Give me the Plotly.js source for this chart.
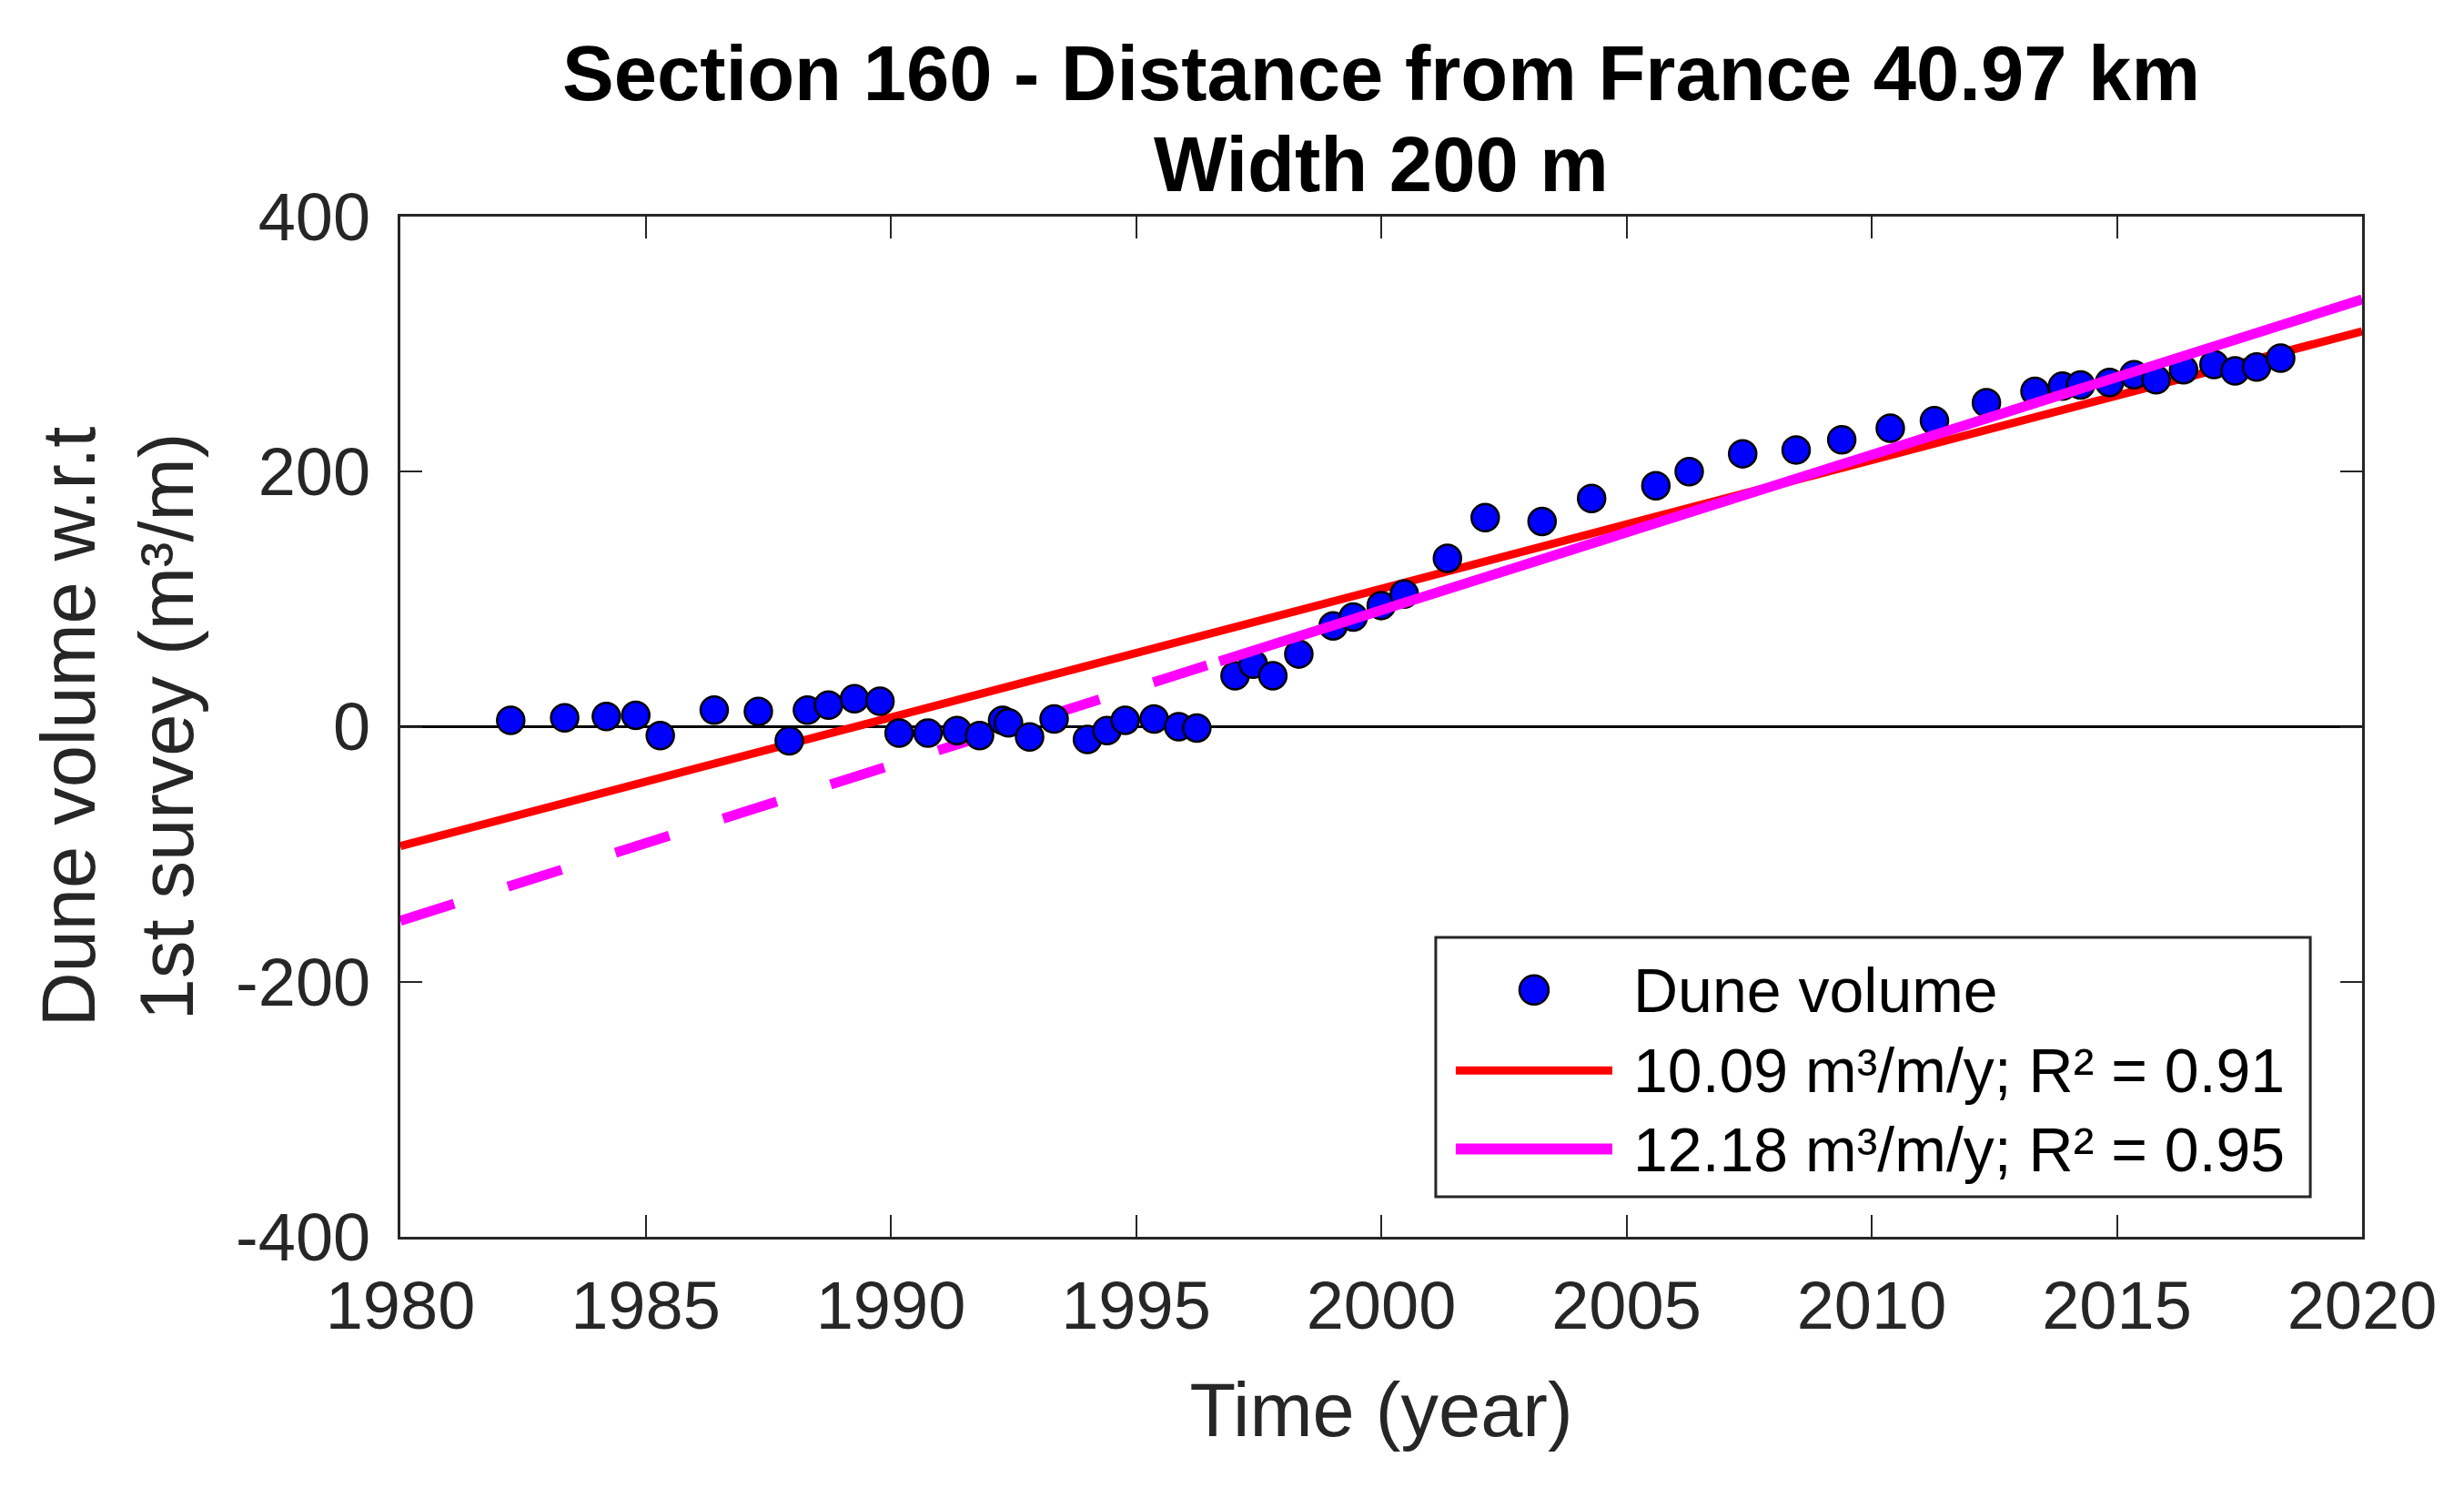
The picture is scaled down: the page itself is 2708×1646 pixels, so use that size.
<!DOCTYPE html>
<html>
<head>
<meta charset="utf-8">
<script src="https://cdn.plot.ly/plotly-3.0.1.min.js"></script>
<style>
  html, body { margin: 0; padding: 0; background: #ffffff; }
  #chart { width: 2708px; height: 1646px; }
</style>
</head>
<body>
<div id="chart"></div>
<script>
// ---- Data ----
var surveyYears = [
  1982.25, 1983.35, 1984.2, 1984.8, 1985.3, 1986.4, 1987.3, 1987.93, 1988.3, 1988.73,
  1989.26, 1989.78, 1990.17, 1990.76, 1991.35, 1991.81, 1992.28, 1992.4, 1992.83, 1993.33,
  1994.01, 1994.41, 1994.78, 1995.37, 1995.87, 1996.24, 1997.02, 1997.39, 1997.79, 1998.32,
  1999.02, 1999.43, 2000.0, 2000.47, 2001.35, 2002.12, 2003.28, 2004.29, 2005.6, 2006.28,
  2007.37, 2008.46, 2009.39, 2010.38, 2011.28, 2012.34, 2013.33, 2013.89, 2014.26, 2014.85,
  2015.35, 2015.8, 2016.36, 2016.98, 2017.41, 2017.85, 2018.34
];
var duneVolume = [
  5, 7, 8, 9, -7, 13, 12, -11, 13, 17,
  22, 20, -5, -5, -3, -7, 5, 3, -8, 6,
  -10, -3, 5, 6, 0, -1, 40, 49, 40, 57,
  79, 86, 95, 104, 132, 164, 161, 179, 189, 200,
  214, 217, 225, 234, 240, 254, 263, 267, 268, 270,
  276, 272, 280, 284, 279, 282, 289
];

// Linear trend (whole record) : 10.09 m3/m/y
var trendAllX = [1980, 2020];
var trendAllY = [-93.6, 310];

// Linear trend (since 1996.7) : 12.18 m3/m/y, extrapolated backwards (dashed)
var trendRecentX = [1996.7, 2020];
var trendRecentY = [51.2, 335];
var trendRecentExtX = [1980, 1996.7];
var trendRecentExtY = [-152.2, 51.2];

var xTickVals = [1980, 1985, 1990, 1995, 2000, 2005, 2010, 2015, 2020];
var yTickVals = [-400, -200, 0, 200, 400];
var yTickText = ['-400', '-200', '0', '200', '400'];

var titleLine1 = 'Section 160 - Distance from France 40.97 km';
var titleLine2 = 'Width 200 m';
var legendLabels = ['Dune volume', '10.09 m³/m/y; R² = 0.91', '12.18 m³/m/y; R² = 0.95'];

// ---- Traces ----
var FONT = '"Liberation Sans", Arial, Helvetica, sans-serif';
var AXC = '#262626';

var traces = [
  {
    x: trendRecentExtX, y: trendRecentExtY, mode: 'lines', type: 'scatter',
    line: { color: '#FF00FF', width: 11, dash: '62px,62px' },
    hoverinfo: 'skip', showlegend: false
  },
  {
    x: trendAllX, y: trendAllY, mode: 'lines', type: 'scatter',
    line: { color: '#FF0000', width: 9 },
    hoverinfo: 'skip', showlegend: false
  },
  {
    x: surveyYears, y: duneVolume, mode: 'markers', type: 'scatter',
    marker: { color: '#0000FF', size: 30, line: { color: '#000000', width: 2.5 } },
    showlegend: false
  },
  {
    x: trendRecentX, y: trendRecentY, mode: 'lines', type: 'scatter',
    line: { color: '#FF00FF', width: 11 },
    hoverinfo: 'skip', showlegend: false
  }
];

// ---- Hand-drawn legend (paper coordinates) ----
var lgX0 = 0.5278, lgX1 = 0.9736, lgY0 = 0.0393, lgY1 = 0.2935;
var rowY = [0.242, 0.163, 0.086];
var symX0 = 0.538, symX1 = 0.6178, symXc = 0.5779, textX = 0.6276;

var shapes = [
  { type: 'rect', xref: 'paper', yref: 'paper', x0: lgX0, x1: lgX1, y0: lgY0, y1: lgY1,
    line: { color: AXC, width: 3 }, fillcolor: '#ffffff', layer: 'above' },
  { type: 'circle', xref: 'paper', yref: 'paper', xsizemode: 'pixel', ysizemode: 'pixel',
    xanchor: symXc, yanchor: rowY[0], x0: -16, x1: 16, y0: -16, y1: 16,
    fillcolor: '#0000FF', line: { color: '#000000', width: 2.5 }, layer: 'above' },
  { type: 'line', xref: 'paper', yref: 'paper', x0: symX0, x1: symX1, y0: rowY[1], y1: rowY[1],
    line: { color: '#FF0000', width: 9 }, layer: 'above' },
  { type: 'line', xref: 'paper', yref: 'paper', x0: symX0, x1: symX1, y0: rowY[2], y1: rowY[2],
    line: { color: '#FF00FF', width: 12 }, layer: 'above' }
];

var annotations = legendLabels.map(function (t, i) {
  return { text: t, xref: 'paper', yref: 'paper', x: textX, y: rowY[i],
    xanchor: 'left', yanchor: 'middle', showarrow: false,
    font: { family: FONT, size: 68, color: '#000000' } };
});
annotations.push({
  text: titleLine2, xref: 'paper', yref: 'paper', x: 0.5, y: 1.0515,
  xanchor: 'center', yanchor: 'middle', showarrow: false,
  font: { family: FONT, size: 85, color: '#000000', weight: 'bold' }
});

var layout = {
  width: 2708, height: 1646,
  margin: { l: 440, r: 112, t: 238, b: 287 },
  paper_bgcolor: '#ffffff', plot_bgcolor: '#ffffff',
  font: { family: FONT, color: AXC },
  showlegend: false,
  title: {
    text: titleLine1,
    font: { family: FONT, size: 85, color: '#000000', weight: 'bold' },
    x: 0.5, xref: 'paper', xanchor: 'center',
    y: 0.951, yref: 'container', yanchor: 'middle'
  },
  xaxis: {
    range: [1980, 2020], tickmode: 'array', tickvals: xTickVals,
    ticks: 'inside', ticklen: 24, tickwidth: 2, tickcolor: AXC,
    showline: true, linecolor: AXC, linewidth: 3, mirror: 'ticks',
    showgrid: false, zeroline: false,
    ticklabelstandoff: 9,
    tickfont: { family: FONT, size: 74, color: AXC },
    title: { text: 'Time (year)', font: { family: FONT, size: 83, color: AXC }, standoff: 46 }
  },
  yaxis: {
    range: [-400, 400], tickmode: 'array', tickvals: yTickVals, ticktext: yTickText,
    ticks: 'inside', ticklen: 24, tickwidth: 2, tickcolor: AXC,
    showline: true, linecolor: AXC, linewidth: 3, mirror: 'ticks',
    showgrid: false, zeroline: true, zerolinecolor: '#000000', zerolinewidth: 3,
    ticklabelstandoff: 15,
    tickfont: { family: FONT, size: 74, color: AXC },
    title: { text: 'Dune volume w.r.t<br>1st survey (m³/m)', font: { family: FONT, size: 83, color: AXC }, standoff: 20 }
  },
  shapes: shapes,
  annotations: annotations
};

Plotly.newPlot('chart', traces, layout, { staticPlot: true, displayModeBar: false });
</script>
</body>
</html>
